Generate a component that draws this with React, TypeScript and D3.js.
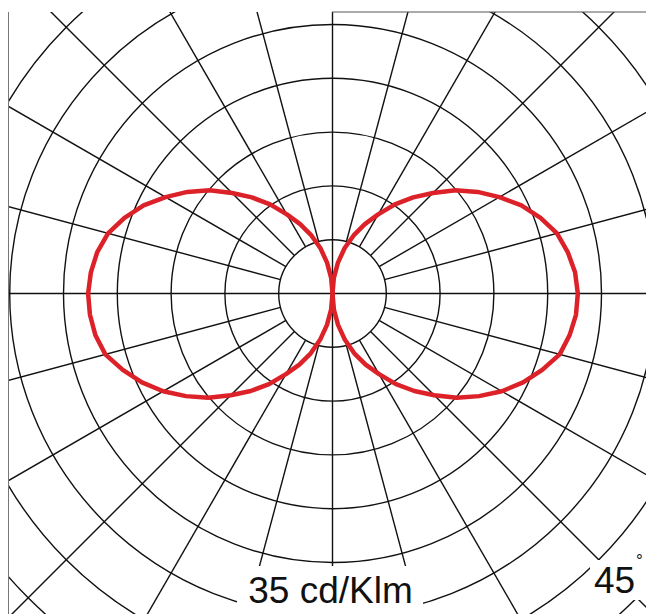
import React from "react";
import * as d3 from "d3";

const width = 646;
const height = 614;
const cx = 332.5;
const cy = 293.5;

// gamma angle from nadir, degrees
const gammaAngles = [
  0, 5, 10, 15, 20, 25, 30, 35, 40, 45, 50, 55, 60, 65, 70, 75, 80, 85, 90,
  95, 100, 105, 110, 115, 120, 125, 130, 135, 140, 145, 150, 155, 160, 165, 170, 175, 180,
];

// cd/klm, C0 plane (right lobe)
const intensityC0 = [
  0, 1.75, 3.45, 5.2, 6.9, 8.5, 10.1, 12.0, 13.8, 15.6, 17.6, 19.4, 21.2, 22.8, 24.2, 25.5, 26.1, 26.5, 26.6,
  26.4, 25.9, 25.2, 24.0, 22.6, 20.9, 19.2, 17.4, 15.4, 13.6, 11.8, 9.9, 8.3, 6.7, 5.1, 3.4, 1.7, 0,
];

// cd/klm, C180 plane (left lobe)
const intensityC180 = [
  0, 1.75, 3.45, 5.2, 6.9, 8.5, 10.1, 12.0, 13.8, 15.6, 17.6, 19.4, 21.2, 22.8, 24.2, 25.5, 26.1, 26.4, 26.5,
  26.3, 25.9, 25.2, 24.0, 22.6, 20.9, 19.2, 17.4, 15.4, 13.6, 11.8, 9.9, 8.3, 6.7, 5.1, 3.4, 1.7, 0,
];

const scaleMax = 35;
const scaleLabel = "35 cd/Klm";
const angleLabel = "45";

const rScale = d3.scaleLinear().domain([0, scaleMax]).range([0, 322.8]);
const ringValues = d3.range(1, 9).map((k) => (k * scaleMax) / 6);
const spokeAngles = d3.range(0, 360, 15);

const rad = Math.PI / 180;

const lobeC0 = d3
  .lineRadial<number>()
  .angle((d, i) => Math.PI - gammaAngles[i] * rad)
  .radius((d) => rScale(d))
  .curve(d3.curveLinear);

const lobeC180 = d3
  .lineRadial<number>()
  .angle((d, i) => Math.PI + gammaAngles[i] * rad)
  .radius((d) => rScale(d))
  .curve(d3.curveLinear);

const gridColor = "#111";
const red = "#dc2128";

export default function App() {
  const inner = rScale(ringValues[0]);
  return (
    <svg
      width={width}
      height={height}
      style={{ position: "absolute", left: 0, top: 0, background: "#fff" }}
      fontFamily="'Liberation Sans', Arial, Helvetica, sans-serif"
    >
      <defs>
        <clipPath id="frame">
          <rect x={8.5} y={12} width={width - 8.5} height={height - 12} />
        </clipPath>
      </defs>
      <g clipPath="url(#frame)">
        {ringValues.map((v, i) => (
          <circle key={i} cx={cx} cy={cy} r={rScale(v)} fill="none" stroke={gridColor} strokeWidth={1.4} />
        ))}
        {spokeAngles.map((a) => {
          const r0 = a % 90 === 0 ? 0 : inner;
          const r1 = 800;
          const c = Math.cos(a * rad);
          const s = Math.sin(a * rad);
          return (
            <line
              key={a}
              x1={cx + r0 * c}
              y1={cy - r0 * s}
              x2={cx + r1 * c}
              y2={cy - r1 * s}
              stroke={gridColor}
              strokeWidth={1.4}
            />
          );
        })}
        <g transform={`translate(${cx},${cy})`}>
          <path d={lobeC0(intensityC0) || ""} fill="none" stroke={red} strokeWidth={4.5} strokeLinejoin="round" />
          <path d={lobeC180(intensityC180) || ""} fill="none" stroke={red} strokeWidth={4.5} strokeLinejoin="round" />
        </g>
      </g>
      {/* label backgrounds */}
      <rect x={237} y={566} width={186} height={48} fill="#fff" />
      <rect x={590} y={560} width={56} height={40} fill="#fff" />
      <line x1={8.5} y1={12} x2={8.5} y2={height} stroke="#777" strokeWidth={1} />
      <line x1={332} y1={12} x2={width} y2={12} stroke="#555" strokeWidth={1} />
      <text x={330.5} y={603} textAnchor="middle" fontSize={37} fill="#111">
        {scaleLabel}
      </text>
      <text x={594} y={593} fontSize={37} fill="#111">
        {angleLabel}
      </text>
      <text x={636} y={566} fontSize={17} fill="#111">
        °
      </text>
    </svg>
  );
}
